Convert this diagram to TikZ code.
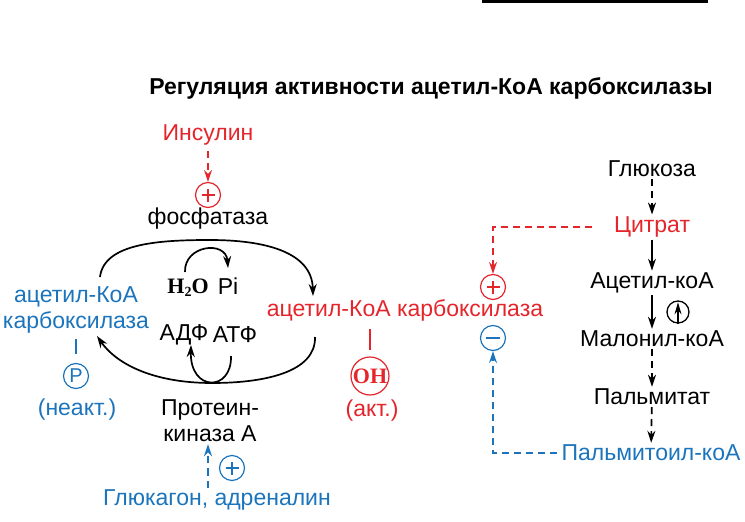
\documentclass[tikz,border=0pt]{standalone}
\usepackage{fontspec}
\setmainfont{Liberation Sans}
\newfontfamily\serif{Liberation Serif}
\usetikzlibrary{arrows.meta}
\definecolor{ired}{RGB}{228,38,44}
\definecolor{iblue}{RGB}{28,117,188}

\begin{document}
\begin{tikzpicture}[x=1pt,y=-1pt,
  txt/.style={font=\fontsize{23}{26}\selectfont,inner sep=2pt},
  sgn/.style={circle,draw,line width=1.2pt,minimum size=25pt,inner sep=0pt},
  lnk/.style={line width=1.7pt,-{Stealth[length=12pt,width=8pt]}},
  dsh/.style={lnk,dash pattern=on 7pt off 5pt}]
   \useasboundingbox (0,0) rectangle (745,522);
   \draw[line width=3.5pt] (482,1.5) -- (708,1.5);
   \node[font=\bfseries\fontsize{23}{26}\selectfont] (T) at (431,88)
     {Регуляция активности ацетил-КоА карбоксилазы};
   % phosphatase side
   \node[txt,ired] (I) at (208,135) {Инсулин};
   \node[sgn,ired] (Pa) at (208,195) {};
   \draw[ired,line width=1.2pt] ([xshift=-6.5pt]Pa.center) -- ([xshift=6.5pt]Pa.center)
     ([yshift=-6.5pt]Pa.center) -- ([yshift=6.5pt]Pa.center);
   \node[txt] (F) at (208,219) {фосфатаза};
   \draw[dsh,ired,shorten <=4pt] (I) -- (Pa);
   % the cycle
   \coordinate (L1) at (100,277);
   \coordinate (R1) at (313,296);
   \coordinate (R2) at (315,337);
   \coordinate (L2) at (97,336);
   \draw[lnk] (L1) .. controls (104,243) and (160,240) .. (210,240)
     .. controls (265,240) and (312,252) .. (R1);
   \draw[lnk] (R2) .. controls (316,372) and (265,383) .. (212,383)
     .. controls (150,383) and (115,362) .. (L2);
   \node[inner sep=1pt] (W) at (188,288)
     {\serif\bfseries\fontsize{22}{22}\selectfont H\raisebox{-3pt}{\fontsize{14}{14}\selectfont 2}O};
   \node[txt] (Pi) at (228,286) {Pi};
   \node[txt] (ADP) at (184,335) {АДФ};
   \node[txt] (ATP) at (235,335) {АТФ};
   \draw[lnk] (185,272) .. controls (184,245) and (226,240) .. (228,268);
   \draw[lnk] (231,356) .. controls (232,392) and (190,392) .. (191,345);
   % inactive form
   \node[txt,iblue,align=center] (E1) at (76,310) {ацетил-КоА\\карбоксилаза};
   \node[sgn,iblue,font=\fontsize{20}{20}\selectfont] (Ph) at (76,376) {P};
   \draw[iblue,line width=1.7pt,shorten <=3pt,shorten >=9pt] (E1) -- (Ph);
   \node[txt,iblue] (N) at (77,410) {(неакт.)};
   \node[txt,align=center] (K) at (210,421) {Протеин-\\киназа А};
   \node[txt,iblue] (G1) at (217,500) {Глюкагон, адреналин};
   \node[sgn,iblue] (Pb) at (232,468) {};
   \draw[iblue,line width=1.2pt] ([xshift=-6.5pt]Pb.center) -- ([xshift=6.5pt]Pb.center)
     ([yshift=-6.5pt]Pb.center) -- ([yshift=6.5pt]Pb.center);
   \draw[dsh,iblue] ([xshift=-9pt]G1.north) -- ([xshift=-2pt]K.south);
   % active form
   \node[txt,ired] (E2) at (405,310) {ацетил-КоА карбоксилаза};
   \node[circle,draw=ired,line width=1.2pt,minimum size=38pt,inner sep=0pt,ired] (O) at (370,376)
     {\serif\bfseries\fontsize{22}{22}\selectfont OH};
   \draw[ired,line width=1.7pt,shorten <=6pt,shorten >=6pt] (E2.south -| O) -- (O);
   \node[txt,ired] (Ak) at (372,411) {(акт.)};
   \node[sgn,ired] (PR) at (493,287) {};
   \draw[ired,line width=1.2pt] ([xshift=-6.5pt]PR.center) -- ([xshift=6.5pt]PR.center)
     ([yshift=-6.5pt]PR.center) -- ([yshift=6.5pt]PR.center);
   \node[sgn,iblue] (MN) at (493,338) {};
   \draw[iblue,line width=1.2pt] ([xshift=-7pt]MN.center) -- ([xshift=7pt]MN.center);
   % synthesis of fatty acids
   \node[txt] (G) at (652,169) {Глюкоза};
   \node[txt,ired] (C) at (652,227) {Цитрат};
   \node[txt] (A) at (652,283) {Ацетил-коА};
   \node[txt] (M) at (652,339) {Малонил-коА};
   \node[txt] (Pm) at (652,397) {Пальмитат};
   \node[txt,iblue] (Po) at (651,453) {Пальмитоил-коА};
   \draw[dsh] (G) -- (C);
   \draw[lnk] (C) -- (A);
   \draw[lnk] (A) -- (M);
   \draw[dsh] (M) -- (Pm);
   \draw[dsh] (Pm) -- (Po);
   \node[circle,draw,line width=1.3pt,minimum size=22pt,inner sep=0pt] (Ac) at (678,312) {};
   \draw[line width=1.3pt,-{Stealth[length=12pt,width=7pt]},shorten >=2pt] (Ac.south) -- (Ac.north);
   \draw[dsh,ired,shorten <=20pt] (C.west) -| (PR.north);
   \draw[dsh,iblue,shorten <=2pt] (Po.west) -| (MN.south);
\end{tikzpicture}
\end{document}
